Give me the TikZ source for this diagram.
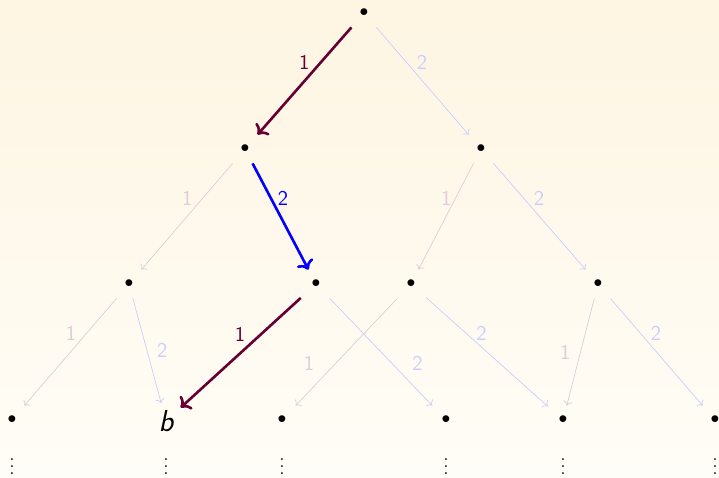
\documentclass[tikz,border=0pt]{standalone}
\usetikzlibrary{arrows.meta,positioning,calc}
\definecolor{mc}{RGB}{102,0,51}
\definecolor{bgtop}{RGB}{254,245,226}
\definecolor{bgbot}{RGB}{255,253,247}
\tikzset{dot/.style={minimum width=17pt,minimum height=16pt,inner sep=0pt},
 lab/.style={font=\large\sffamily,inner sep=5.5pt,pos=.33},
 one/.style={->,mc!20},two/.style={->,blue!20},
 hotone/.style={->,line width=1.5pt,mc},hottwo/.style={->,line width=1.5pt,blue},
 vd/.style={anchor=south,inner sep=0pt}}
\begin{document}
\begin{tikzpicture}[x=0.57pt,y=-0.57pt]
\shade[top color=bgtop,bottom color=bgbot] (0,0) rectangle (719,477);
\useasboundingbox (0,0) rectangle (719,477);
\node[dot] (t) at (364,13) {$\bullet$};
\node[dot] (t1) at (245,149) {$\bullet$};
\node[dot] (t2) at (481,149) {$\bullet$};
\node[dot] (t11) at (129,284) {$\bullet$};
\node[dot] (t12) at (316,284) {$\bullet$};
\node[dot] (t21) at (411,284) {$\bullet$};
\node[dot] (t22) at (598,284) {$\bullet$};
\node[dot] (t111) at (12,420) {$\bullet$};
\node[font=\LARGE\sffamily\itshape,inner sep=4pt] (b) at (166,421) {b};
\node[dot] (t211) at (282,420) {$\bullet$};
\node[dot] (t122) at (446,420) {$\bullet$};
\node[dot] (t212) at (563,420) {$\bullet$};
\node[dot] (t222) at (715,420) {$\bullet$};
\foreach \n in {t111,b,t211,t122,t212,t222}{\node[vd] (v\n) at (\n.center |- 0,475) {$\vdots$};}
% edges, the path to b drawn strong
\draw[hotone] (t) -- node[lab,left] {1} (t1);
\draw[two] (t) -- node[lab,right] {2} (t2);
\draw[one] (t1) -- node[lab,left] {1} (t11);
\draw[hottwo] (t1) -- node[lab,right,xshift=-2.3pt] {2} (t12);
\draw[one] (t2) -- node[lab,left,xshift=3.4pt] {1} (t21);
\draw[two] (t2) -- node[lab,right] {2} (t22);
\draw[one] (t11) -- node[lab,left] {1} (t111);
\draw[two] (t11) -- node[lab,right,pos=.5] {2} (b);
\draw[hotone] (t12) -- node[lab,left,xshift=-2.8pt] {1} (b);
\draw[two] (t12) -- node[lab,right,pos=.61,xshift=5.7pt] {2} (t122);
\draw[one] (t21) -- node[lab,left,pos=.61,xshift=-6.3pt] {1} (t211);
\draw[two] (t21) -- node[lab,right] {2} (t212);
\draw[one] (t22) -- node[lab,left,pos=.5] {1} (t212);
\draw[two] (t22) -- node[lab,right] {2} (t222);
\end{tikzpicture}
\end{document}
